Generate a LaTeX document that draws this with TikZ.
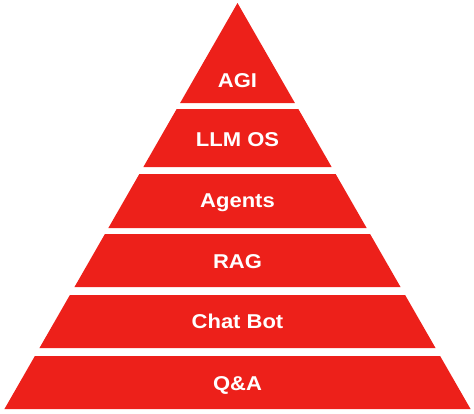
\documentclass[tikz,border=0pt]{standalone}
\usepackage{fontspec}
\setmainfont{Liberation Sans}
\definecolor{pyrred}{RGB}{237,32,26}
\tikzset{
  bandfill/.style={fill=pyrred},
  bandlabel/.style={text=white, font=\fontsize{20}{24}\selectfont\bfseries, anchor=base, inner sep=0pt}
}
\newcommand\pyrband[5]{%
  \pgfmathsetmacro\xlt{237.5-0.574*(#1-3)}%
  \pgfmathsetmacro\xrt{237.5+0.574*(#1-3)}%
  \pgfmathsetmacro\xlb{237.5-0.574*(#2-3)}%
  \pgfmathsetmacro\xrb{237.5+0.574*(#2-3)}%
  \fill[bandfill] (\xlt,#1) -- (\xrt,#1) -- (\xrb,#2) -- (\xlb,#2) -- cycle;
  \node[bandlabel] (#4) at (237.5,#3) {\scalebox{1.1}[1]{#5}};
}
\begin{document}
\begin{tikzpicture}[x=1pt,y=-1pt]
  \useasboundingbox (0,0) rectangle (474,413);
  \pyrband{3}{103}{87.3}{agi}{AGI}
  \pyrband{109}{167}{146.7}{llmos}{LLM OS}
  \pyrband{174}{228}{207.3}{agents}{Agents}
  \pyrband{234}{287}{268}{rag}{RAG}
  \pyrband{295}{348}{328.7}{chatbot}{Chat Bot}
  \pyrband{356}{409}{390}{qa}{Q\&A}
\end{tikzpicture}
\end{document}
